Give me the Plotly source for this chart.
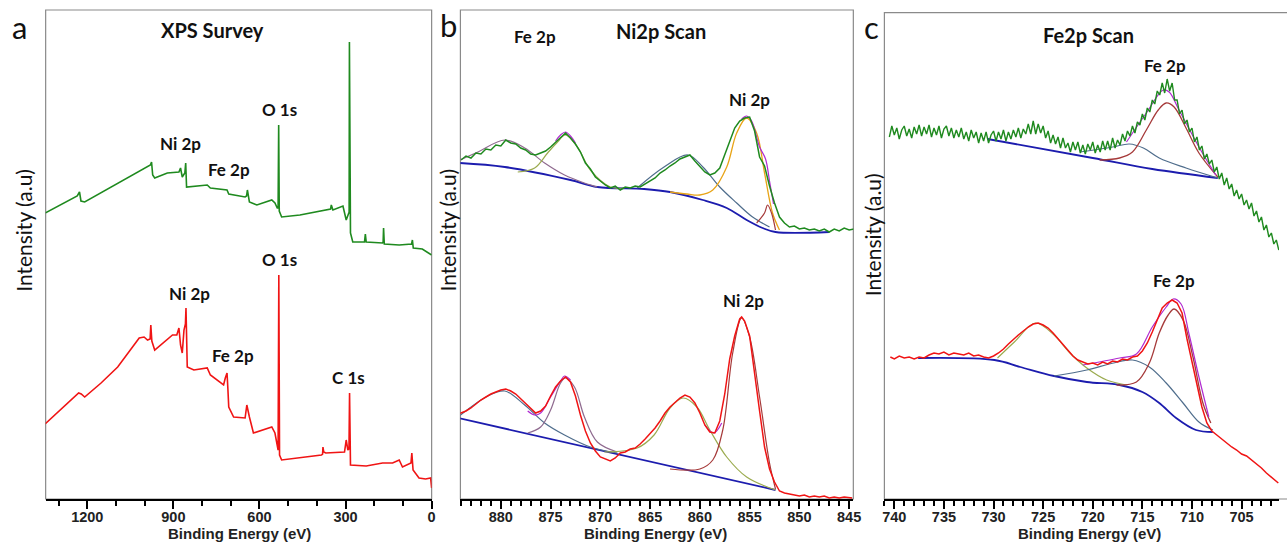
import plotly.graph_objects as go

# ---------------- Panel a: XPS survey ----------------
survey_top_E = [1347, 1235, 1227, 1222, 1209, 1013, 996, 985, 980, 976, 972, 965, 921, 880.6, 875, 869, 860, 857, 854,
                782, 771, 713, 707, 650, 645, 642, 638, 635, 609, 557, 546, 538, 535, 533, 531, 528.6, 522.7, 459,
                378.7, 352, 349.6, 347, 344, 309, 297.7, 288.7, 287.5, 286.5, 285, 282.8, 274.8,
                234, 231, 228, 171, 169, 167.5, 165, 113, 70, 67, 64, 32.5, 0]
survey_top_I = [286, 303, 307, 298, 297, 329, 331, 333, 334, 337, 324, 321, 326, 327, 331, 322, 326, 336, 312,
                314, 311, 309, 305, 302, 303, 309, 300, 297, 294, 299, 296, 291, 291, 374, 288, 286, 282, 284,
                289, 290, 294, 290, 289, 293, 279, 286, 286, 457, 270, 266, 257,
                257, 265, 257, 256, 257, 271, 255, 254, 255, 259, 251, 250, 244]

survey_bot_E = [1347, 1238, 1230, 1221, 1209, 1152, 1094, 1019, 1002, 990, 981, 978.6, 975, 965, 944, 903, 888,
                880.6, 875, 869, 863, 858, 856, 853, 851.6, 828.6, 782, 771, 725, 719, 713, 710, 707, 690, 650, 644,
                640, 635, 621, 557, 546, 535, 532.5, 530, 522.7, 384, 380, 378.7, 376, 369, 303.6, 297.7, 292, 288,
                286, 284, 282.8, 228, 171, 136, 113, 101.6, 72, 69, 66, 64.7, 44, 21, 3.5, 0]
survey_bot_I = [75, 104, 106, 105, 102, 116, 132, 161, 162, 159, 160, 174, 158, 149, 154, 164, 164,
                171, 154, 146, 169, 175, 191, 140, 132, 129, 131, 124, 114, 121, 126, 110, 92, 82, 81, 94,
                88, 82, 66, 72, 66, 49, 224, 44, 39, 44, 45, 52, 47, 46, 47, 59, 49, 50,
                106, 36, 34, 33, 36, 36, 39, 32, 36, 46, 32, 29, 21, 20, 21, 11]

survey_major_ticks = [1200, 900, 600, 300, 0]
survey_minor_ticks = [1300, 1200, 1100, 1000, 900, 800, 700, 600, 500, 400, 300, 200, 100, 0]

# ---------------- Panel b: Ni2p scan ----------------
ni_top_E = [884.0, 883.5, 883.0, 882.5, 882.0, 881.5, 881.0, 880.5, 880.0, 879.5, 879.0, 878.5, 878.0, 877.5, 877.0,
            876.5, 876.0, 875.5, 875.0, 874.5, 874.0, 873.5, 873.0, 872.5, 872.0, 871.5, 871.0, 870.5, 870.0, 869.5,
            869.0, 868.5, 868.0, 867.5, 867.0, 866.5, 866.0, 865.5, 865.0, 864.5, 864.0, 863.5, 863.0, 862.5, 862.0,
            861.5, 861.0, 860.5, 860.0, 859.5, 859.0, 858.5, 858.0, 857.5, 857.0, 856.5, 856.0, 855.5, 855.0, 854.5,
            854.0, 853.5, 853.0, 852.5, 852.0, 851.5, 851.0, 850.5, 850.0, 849.5, 849.0, 848.5, 848.0, 847.5, 847.0,
            846.5, 846.0, 845.5, 845.0, 844.5]
ni_top_I = [339, 343, 341, 346, 345, 350, 349, 354, 353, 359, 356, 355, 351, 349, 345,
            344, 346, 348, 352, 357, 362, 366, 361, 355, 347, 336, 330, 322, 318, 314,
            311, 313, 309, 312, 311, 313, 312, 315, 318, 321, 326, 329, 333, 336, 340,
            342, 344, 338, 333, 327, 324, 326, 331, 345, 359, 371, 378, 381, 382, 368,
            342, 333, 313, 296, 282, 276, 272, 273, 270, 271, 269, 270, 268, 270, 267,
            270, 268, 271, 269, 270]
ni_top_base_E = [884.1, 879.6, 873, 870.3, 865.6, 863, 859.7, 857.3, 855.3, 853.7, 852.4, 847]
ni_top_base_I = [336, 332, 319, 312, 310, 307, 299, 291, 279, 271, 267, 267]
ni_top_sat_E = [884.1, 882.3, 879.6, 877.6, 875.6, 873.6, 871.6, 870.3]
ni_top_sat_I = [339, 347, 359, 351, 336, 324, 316, 312]
ni_top_fe_E = [878.3, 876.6, 875.3, 874.3, 873.5, 872.3, 871.0, 869.0, 867.6]
ni_top_fe_I = [327, 331, 346, 357, 364, 352, 329, 312, 311]
ni_top_s2_E = [866.3, 863.6, 861.2, 859.7, 858.0, 856.3, 854.7, 853.0]
ni_top_s2_I = [311, 332, 344, 332, 312, 296, 282, 272]
ni_top_main_E = [863, 861.3, 860, 858.7, 857.3, 856.3, 855.3, 854.3, 853.5, 852.7, 852]
ni_top_main_I = [307, 305, 304, 309, 332, 366, 381, 366, 326, 286, 269]
ni_top_small_E = [854.3, 853.5, 853.2, 852.8, 852.4]
ni_top_small_I = [276, 286, 294, 286, 269]
ni_top_env_E = [874.5, 874.0, 873.5, 873.0, 872.5, 855.8, 855.3, 854.8, 854.0, 853.4, 853.0, 852.6]
ni_top_env_I = [358, 364, 367, 363, 356, 380, 383, 378, 352, 340, 318, 295]

ni_bot_E = [884.3, 884.0, 883.5, 883.0, 882.5, 882.0, 881.5, 881.0, 880.5, 880.0, 879.5, 879.0, 878.5, 878.0, 877.5,
            877.0, 876.5, 876.0, 875.5, 875.0, 874.5, 874.0, 873.5, 873.0, 872.5, 872.0, 871.5, 871.0, 870.5, 870.0,
            869.5, 869.0, 868.5, 868.0, 867.5, 867.0, 866.5, 866.0, 865.5, 865.0, 864.5, 864.0, 863.5, 863.0, 862.5,
            862.0, 861.5, 861.0, 860.5, 860.0, 859.5, 859.0, 858.5, 858.0, 857.5, 857.0, 856.5, 856.0, 855.8, 855.5,
            855.0, 854.5, 854.0, 853.5, 853.0, 852.5, 852.0, 851.5, 851.0, 850.5, 850.0, 849.5, 849.0, 848.5, 848.0,
            847.5, 847.0, 846.5, 846.0, 845.5, 845.0, 844.7]
ni_bot_I = [84, 86, 88, 91, 95, 99, 102, 105, 107, 109, 110, 108, 105, 100, 95,
            90, 86, 88, 93, 103, 112, 118, 122, 117, 103, 84, 68, 56, 48, 42,
            40, 38, 41, 46, 47, 50, 51, 55, 60, 65, 71, 78, 86, 92, 97,
            101, 104, 102, 96, 86, 74, 67, 66, 78, 105, 140, 163, 180, 182, 178,
            163, 128, 88, 52, 30, 17, 8, 6, 5, 4, 3, 4, 2, 3, 2,
            3, 1, 2, 1, 2, 1, 1]
ni_bot_base_E = [884.3, 852.4]
ni_bot_base_I = [81, 9]
ni_bot_sat_E = [884.3, 881.3, 879.6, 877.6, 875.6, 873.6, 871.0, 868.3]
ni_bot_sat_I = [82, 103, 108, 94, 76, 64, 52, 46]
ni_bot_p2_E = [877.3, 876.0, 875.0, 874.0, 873.5, 872.6, 871.6, 870.3, 868.3]
ni_bot_p2_I = [66, 72, 89, 116, 121, 112, 82, 57, 47]
ni_bot_s2_E = [869.6, 866.3, 864.6, 863.0, 861.7, 860.3, 859.0, 857.3, 855.3, 852.4]
ni_bot_s2_I = [47, 51, 64, 91, 101, 92, 69, 42, 22, 9]
ni_bot_main_E = [863, 860, 858.7, 857.7, 856.7, 855.8, 855.0, 854.0, 853.0, 852.4]
ni_bot_main_I = [30, 30, 39, 69, 146, 181, 162, 102, 36, 10]
ni_bot_env_E = [877.3, 876.6, 876.0, 875.0, 874.0, 873.6, 873.0, 859.5, 858.6, 857.8]
ni_bot_env_I = [88, 84, 86, 102, 118, 123, 119, 74, 66, 76]

# ---------------- Panel c: Fe2p scan ----------------
fe_top_E = [740.50, 740.25, 740.00, 739.75, 739.50, 739.25, 739.00, 738.75, 738.50, 738.25, 738.00, 737.75, 737.50,
            737.25, 737.00, 736.75, 736.50, 736.25, 736.00, 735.75, 735.50, 735.25, 735.00, 734.75, 734.50, 734.25,
            734.00, 733.75, 733.50, 733.25, 733.00, 732.75, 732.50, 732.25, 732.00, 731.75, 731.50, 731.25, 731.00,
            730.75, 730.50, 730.25, 730.00, 729.75, 729.50, 729.25, 729.00, 728.75, 728.50, 728.25, 728.00, 727.75,
            727.50, 727.25, 727.00, 726.75, 726.50, 726.25, 726.00, 725.75, 725.50, 725.25, 725.00, 724.75, 724.50,
            724.25, 724.00, 723.75, 723.50, 723.25, 723.00, 722.75, 722.50, 722.25, 722.00, 721.75, 721.50, 721.25,
            721.00, 720.75, 720.50, 720.25, 720.00, 719.75, 719.50, 719.25, 719.00, 718.75, 718.50, 718.25, 718.00,
            717.75, 717.50, 717.25, 717.00, 716.75, 716.50, 716.25, 716.00, 715.75, 715.50, 715.25, 715.00, 714.75,
            714.50, 714.25, 714.00, 713.75, 713.50, 713.25, 713.00, 712.75, 712.50, 712.25, 712.00, 711.75, 711.50,
            711.25, 711.00, 710.75, 710.50, 710.25, 710.00, 709.75, 709.50, 709.25, 709.00, 708.75, 708.50, 708.25,
            708.00, 707.75, 707.50, 707.25, 707.00, 706.75, 706.50, 706.25, 706.00, 705.75, 705.50, 705.25, 705.00,
            704.75, 704.50, 704.25, 704.00, 703.75, 703.50, 703.25, 703.00, 702.75, 702.50, 702.25, 702.00, 701.75,
            701.50, 701.25]
fe_top_I = [362, 373, 364, 371, 360, 369, 373, 363, 370, 361, 372, 365, 374,
            363, 372, 365, 374, 362, 371, 364, 373, 361, 370, 373, 363, 371,
            361, 369, 362, 371, 360, 367, 358, 369, 361, 367, 356, 366, 358,
            367, 356, 364, 368, 358, 367, 360, 369, 358, 367, 360, 369, 362,
            371, 361, 370, 365, 375, 365, 378, 365, 375, 366, 373, 361, 368,
            356, 364, 355, 362, 351, 361, 351, 356, 347, 357, 349, 357, 346,
            354, 345, 355, 349, 357, 346, 354, 347, 358, 349, 358, 349, 361,
            351, 359, 354, 365, 358, 368, 363, 373, 366, 377, 374, 385, 379,
            391, 387, 399, 395, 408, 404, 416, 406, 420, 408, 416, 399, 399,
            385, 389, 375, 379, 367, 371, 357, 362, 349, 353, 340, 345, 335,
            339, 327, 332, 320, 326, 314, 321, 310, 315, 303, 309, 300, 305,
            294, 299, 290, 296, 283, 288, 277, 282, 269, 274, 262, 266, 255,
            259, 249]
fe_top_base_E = [730.6, 720.0, 714.0, 707.4]
fe_top_base_I = [360, 341, 330, 321]
fe_top_main_E = [719.3, 717.3, 716.0, 714.6, 713.4, 712.6, 711.8, 710.6, 709.3, 707.4]
fe_top_main_I = [339, 341, 347, 369, 389, 396, 392, 371, 346, 322]
fe_top_sat_E = [721.3, 718.0, 716.3, 714.9, 713.3, 710.6, 707.4]
fe_top_sat_I = [347, 352, 355, 351, 341, 331, 321]
fe_top_env_E = [716.6, 714.6, 712.9, 712.3, 711.3, 709.3, 707.6]
fe_top_env_I = [357, 386, 409, 407, 389, 352, 324]

fe_bot_E = [740.4, 740.0, 739.5, 739.0, 738.5, 738.0, 737.5, 737.0, 736.5, 736.0, 735.5, 735.0, 734.5, 734.0, 733.5,
            733.0, 732.5, 732.0, 731.5, 731.0, 730.5, 730.0, 729.5, 729.0, 728.5, 728.0, 727.5, 727.0, 726.5, 726.0,
            725.5, 725.0, 724.5, 724.0, 723.5, 723.0, 722.5, 722.0, 721.5, 721.0, 720.5, 720.0, 719.5, 719.0, 718.5,
            718.0, 717.5, 717.0, 716.5, 716.0, 715.5, 715.0, 714.5, 714.0, 713.5, 713.0, 712.5, 712.0, 711.5, 711.0,
            710.5, 710.0, 709.5, 709.0, 708.5, 708.0, 707.5, 707.0, 706.5, 706.0, 705.5, 705.0, 704.5, 704.0, 703.5,
            703.0, 702.5, 702.0, 701.5, 701.3]
fe_bot_I = [142, 140, 143, 141, 142, 140, 142, 141, 144, 146, 145, 147, 144, 146, 145,
            144, 146, 143, 144, 142, 141, 143, 146, 150, 155, 160, 164, 168, 172, 175,
            176, 174, 171, 166, 160, 154, 148, 143, 139, 137, 135, 136, 134, 137, 135,
            138, 137, 140, 139, 142, 143, 148, 156, 167, 180, 191, 196, 199, 196, 186,
            160, 137, 115, 92, 76, 68, 64, 60, 56, 52, 49, 45, 43, 39, 35,
            31, 26, 22, 18, 16]
fe_bot_base_E = [737.6, 729.9, 727.3, 723.9, 720.6, 717.3, 715.0, 713.3, 711.6, 709.6, 707.9]
fe_bot_base_I = [141, 139, 132, 123, 117, 114, 107, 96, 81, 69, 67]
fe_bot_p2_E = [729.6, 727.9, 725.8, 723.9, 722.3, 720.6, 718.6, 716.6]
fe_bot_p2_I = [141, 157, 176, 164, 146, 131, 119, 114]
fe_bot_sat_E = [723.9, 720.6, 717.9, 716.0, 714.3, 712.6, 710.9, 709.3, 707.9]
fe_bot_sat_I = [123, 129, 136, 139, 132, 116, 96, 77, 69]
fe_bot_main_E = [717.6, 715.6, 714.3, 713.3, 712.4, 711.8, 710.9, 709.9, 708.9, 708.1]
fe_bot_main_I = [114, 117, 136, 166, 184, 190, 179, 142, 96, 76]
fe_bot_env_E = [721.0, 717.3, 715.6, 714.0, 712.6, 711.9, 711.1, 710.3, 709.3, 708.3]
fe_bot_env_I = [134, 141, 145, 172, 192, 200, 195, 165, 122, 82]

# ---------------- Styles ----------------
GREEN = '#1f8a1f'
RED = '#f01414'
BLUE = '#1c1cae'
MAGENTA = '#b02ad0'
OLIVE = '#9bab4f'
SLATE = '#4f6d8c'
MAUVE = '#8f6a8f'
BROWN = '#a63a3a'
ORANGE = '#e8a417'

fig = go.Figure()


def add(x, y, color, ax, width=1.5, shape='linear'):
    fig.add_trace(go.Scatter(x=x, y=y, mode='lines', xaxis=ax[0], yaxis=ax[1],
                             line=dict(color=color, width=width, shape=shape),
                             hoverinfo='skip', showlegend=False))


A = ('x', 'y')
B = ('x2', 'y2')
C = ('x3', 'y3')

add(survey_top_E, survey_top_I, GREEN, A, 1.6)
add(survey_bot_E, survey_bot_I, RED, A, 1.6)

# panel b top
add(ni_top_base_E, ni_top_base_I, BLUE, B, 1.8, 'spline')
add(ni_top_sat_E, ni_top_sat_I, MAUVE, B, 1.2, 'spline')
add(ni_top_fe_E, ni_top_fe_I, OLIVE, B, 1.2, 'spline')
add(ni_top_s2_E, ni_top_s2_I, SLATE, B, 1.2, 'spline')
add(ni_top_main_E, ni_top_main_I, ORANGE, B, 1.3, 'spline')
add(ni_top_small_E, ni_top_small_I, BROWN, B, 1.2, 'spline')
add(ni_top_env_E[:5], ni_top_env_I[:5], MAGENTA, B, 1.2, 'spline')
add(ni_top_env_E[5:], ni_top_env_I[5:], MAGENTA, B, 1.2, 'spline')
add(ni_top_E, ni_top_I, GREEN, B, 1.5)

# panel b bottom
add(ni_bot_base_E, ni_bot_base_I, BLUE, B, 1.8)
add(ni_bot_sat_E, ni_bot_sat_I, SLATE, B, 1.2, 'spline')
add(ni_bot_p2_E, ni_bot_p2_I, MAUVE, B, 1.2, 'spline')
add(ni_bot_s2_E, ni_bot_s2_I, OLIVE, B, 1.2, 'spline')
add(ni_bot_main_E, ni_bot_main_I, BROWN, B, 1.2, 'spline')
add(ni_bot_env_E[:7], ni_bot_env_I[:7], MAGENTA, B, 1.2, 'spline')
add(ni_bot_env_E[7:], ni_bot_env_I[7:], MAGENTA, B, 1.2, 'spline')
add(ni_bot_E, ni_bot_I, RED, B, 1.5)

# panel c top
add(fe_top_base_E, fe_top_base_I, BLUE, C, 1.8, 'spline')
add(fe_top_sat_E, fe_top_sat_I, SLATE, C, 1.2, 'spline')
add(fe_top_main_E, fe_top_main_I, BROWN, C, 1.3, 'spline')
add(fe_top_env_E, fe_top_env_I, MAGENTA, C, 1.2, 'spline')
add(fe_top_E, fe_top_I, GREEN, C, 1.4)

# panel c bottom
add(fe_bot_base_E, fe_bot_base_I, BLUE, C, 1.8, 'spline')
add(fe_bot_p2_E, fe_bot_p2_I, OLIVE, C, 1.2, 'spline')
add(fe_bot_sat_E, fe_bot_sat_I, SLATE, C, 1.2, 'spline')
add(fe_bot_main_E, fe_bot_main_I, BROWN, C, 1.3, 'spline')
add(fe_bot_env_E, fe_bot_env_I, MAGENTA, C, 1.2, 'spline')
add(fe_bot_E, fe_bot_I, RED, C, 1.5)

W, H = 1287, 542


def px(x):
    return x / W


def py(y):
    return 1 - y / H


tickfont = dict(family='Arial', size=14.5, color='#222', weight='bold')


def xaxis(dom, rng, dtick, minor):
    return dict(domain=dom, range=rng, showgrid=False, zeroline=False, showline=True,
                linecolor='black', linewidth=2, ticks='outside', ticklen=8, tickwidth=2,
                tickcolor='black', dtick=dtick, tick0=0, tickfont=tickfont, ticklabelstandoff=-4,
                minor=dict(dtick=minor, tick0=0, ticks='outside', ticklen=5, tickwidth=1.5,
                           tickcolor='black', showgrid=False),
                fixedrange=True)


def yaxis(dom, anchor, rng):
    return dict(domain=dom, range=rng, anchor=anchor, showgrid=False, zeroline=False,
                showline=False, showticklabels=False, ticks='', fixedrange=True)


ya_dom = [py(499), py(10)]
yc_dom = [py(499), py(12.7)]

xa = xaxis([px(44), px(433)], [1345, 0], 300, 100)
xa.update(tickmode='array', tickvals=survey_major_ticks)
xa['minor'].update(tickmode='array', tickvals=survey_minor_ticks)

fig.update_layout(
    width=W, height=H, margin=dict(l=0, r=0, t=0, b=0),
    paper_bgcolor='white', plot_bgcolor='white',
    xaxis=dict(xa, anchor='y'),
    yaxis=yaxis(ya_dom, 'x', [0, 489]),
    xaxis2=dict(xaxis([px(462), px(858)], [884.06, 844.58], 5, 1), anchor='y2'),
    yaxis2=yaxis(ya_dom, 'x2', [0, 489]),
    xaxis3=dict(xaxis([px(889.3), 1.0], [741.0, 701.23], 5, 1), anchor='y3'),
    yaxis3=yaxis(yc_dom, 'x3', [0, 486.3]),
)

# frames
frames = [(44, 10, 433, 499), (462, 10, 858, 499), (889.3, 12.7, 1300, 499)]
for (x0, y0, x1, y1) in frames:
    fig.add_shape(type='rect', xref='paper', yref='paper', x0=px(x0), x1=px(x1), y0=py(y1), y1=py(y0),
                  line=dict(color='#8a8a8a', width=1.2), layer='below')

CAL = 'Lato'


def text(x, y, s, size=16, bold=True, family=CAL, angle=0, color='#111'):
    fig.add_annotation(x=px(x), y=py(y), xref='paper', yref='paper', text=s, showarrow=False,
                       xanchor='center', yanchor='middle', textangle=angle,
                       font=dict(family=family, size=size, color=color, weight='bold' if bold else 'normal'))


# panel letters
text(18, 27, 'a', 31, False)
text(450, 25, 'b', 31, False)
text(876, 27, 'c', 31, False)

# titles
text(212, 30, 'XPS Survey', 20)
text(664, 31, 'Ni2p Scan', 20)
text(1095, 35, 'Fe2p Scan', 20)

# y titles
text(21, 230, 'Intensity (a.u)', 21, False, angle=-90)
text(448, 230, 'Intensity (a.u)', 21, False, angle=-90)
text(877, 235, 'Intensity (a.u)', 21, False, angle=-90)

# x titles
text(239, 533, 'Binding Energy (eV)', 15, True, 'Arial', color='#222')
text(659, 533, 'Binding Energy (eV)', 15, True, 'Arial', color='#222')
text(1096, 533, 'Binding Energy (eV)', 15, True, 'Arial', color='#222')

# peak labels
text(180, 143, 'Ni 2p', 17)
text(229, 169, 'Fe 2p', 17)
text(280, 109, 'O 1s', 17)
text(280, 260, 'O 1s', 17)
text(189, 293, 'Ni 2p', 17)
text(233, 355, 'Fe 2p', 17)
text(349, 377, 'C 1s', 17)

text(537, 37, 'Fe 2p', 17)
text(753, 100, 'Ni 2p', 17)
text(747, 300, 'Ni 2p', 17)

text(1172, 65, 'Fe 2p', 17)
text(1181, 280, 'Fe 2p', 17)

fig.write_html('out.html')
